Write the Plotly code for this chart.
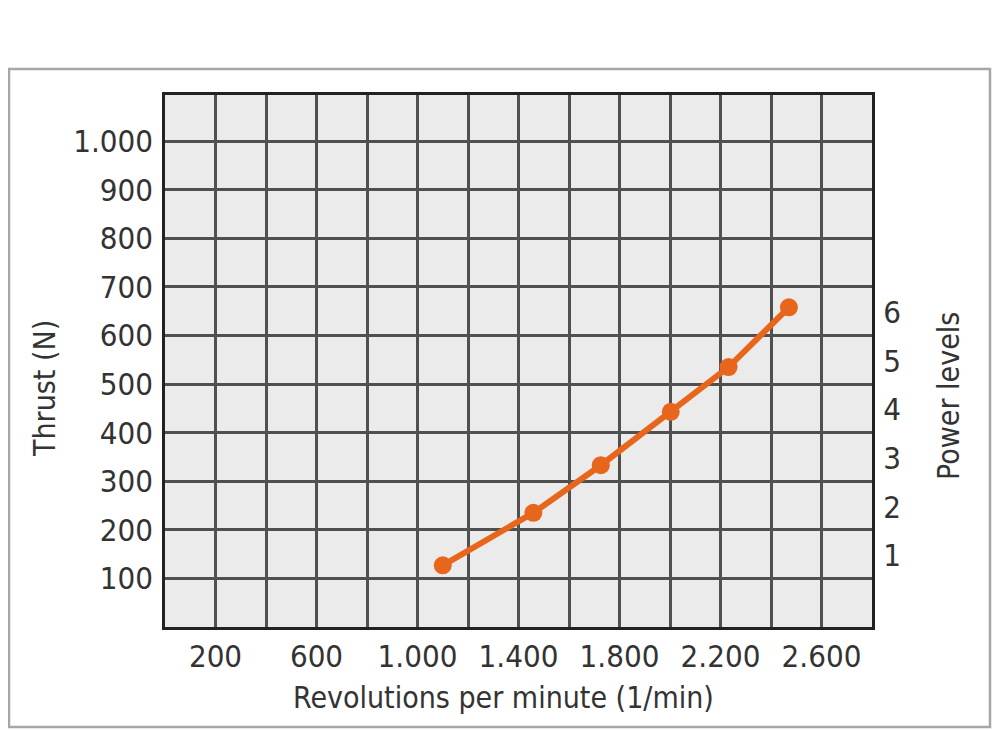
import plotly.graph_objects as go

# Data
rpm = [1100, 1459, 1726, 2003, 2232, 2471]
thrust = [127, 235, 333, 443, 535, 658]

x_tick_vals = [200, 600, 1000, 1400, 1800, 2200, 2600]
x_tick_labels = ["200", "600", "1.000", "1.400", "1.800", "2.200", "2.600"]
y_tick_vals = [100, 200, 300, 400, 500, 600, 700, 800, 900, 1000]
y_tick_labels = ["100", "200", "300", "400", "500", "600", "700", "800", "900", "1.000"]
power_vals = [1, 2, 3, 4, 5, 6]
power_labels = ["1", "2", "3", "4", "5", "6"]

FONT = "DejaVu Sans Condensed, Liberation Sans Narrow, sans-serif"
TXT = "#333333"
GRID = "#505050"
ORANGE = "#E8661B"

# page body has an 8px margin: figure is placed at (8, 8)
W, H = 992, 722
L, T = 157, 87
PW, PH = 707, 532

fig = go.Figure()
fig.add_trace(go.Scatter(
    x=rpm, y=thrust, mode="lines+markers",
    line=dict(color=ORANGE, width=6),
    marker=dict(color=ORANGE, size=18),
    showlegend=False, hoverinfo="x+y",
))
fig.add_trace(go.Scatter(x=[None], y=[None], yaxis="y2", showlegend=False))


def px(xpage):
    return (xpage - 8 - L) / PW


def py(ypage):
    return (T + PH - (ypage - 8)) / PH


fig.update_layout(
    width=W, height=H,
    margin=dict(l=L, r=W - L - PW, t=T, b=H - T - PH, pad=0),
    paper_bgcolor="white",
    plot_bgcolor="#EBEBEB",
    font=dict(family=FONT, size=31, color=TXT),
    xaxis=dict(
        range=[0, 2800], tickvals=x_tick_vals, ticktext=x_tick_labels,
        showgrid=True, gridcolor=GRID, gridwidth=2.5,
        minor=dict(dtick=200, tick0=0, showgrid=True, gridcolor=GRID, gridwidth=2.5),
        showline=True, linecolor="#222222", linewidth=2.5, mirror=True,
        ticks="", zeroline=False, fixedrange=True,
    ),
    yaxis=dict(
        range=[0, 1095], tickvals=y_tick_vals, ticktext=y_tick_labels,
        showgrid=True, gridcolor=GRID, gridwidth=2.5,
        showline=True, linecolor="#222222", linewidth=2.5, mirror=True,
        ticks="outside", ticklen=3, tickcolor="rgba(0,0,0,0)",
        zeroline=False, fixedrange=True,
    ),
    yaxis2=dict(
        overlaying="y", side="right", range=[-0.47, 10.47],
        tickvals=power_vals, ticktext=power_labels,
        showgrid=False, zeroline=False, showline=False,
        ticks="outside", ticklen=4, tickcolor="rgba(0,0,0,0)",
        fixedrange=True,
    ),
    shapes=[dict(
        type="rect", xref="paper", yref="paper",
        x0=px(9), x1=px(990), y0=py(727), y1=py(69),
        line=dict(color="#A6A6A6", width=2.5), layer="below",
    )],
    annotations=[
        dict(text="Thrust (N)", xref="paper", yref="paper",
             x=px(45), y=py(389), textangle=-90, font=dict(size=30),
             showarrow=False, xanchor="center", yanchor="middle"),
        dict(text="Power levels", xref="paper", yref="paper",
             x=px(948), y=py(396), textangle=-90, font=dict(size=30),
             showarrow=False, xanchor="center", yanchor="middle"),
        dict(text="Revolutions per minute (1/min)", xref="paper", yref="paper",
             x=px(503), y=py(697), font=dict(size=30),
             showarrow=False, xanchor="center", yanchor="middle"),
    ],
)

fig.write_html("out.html")
